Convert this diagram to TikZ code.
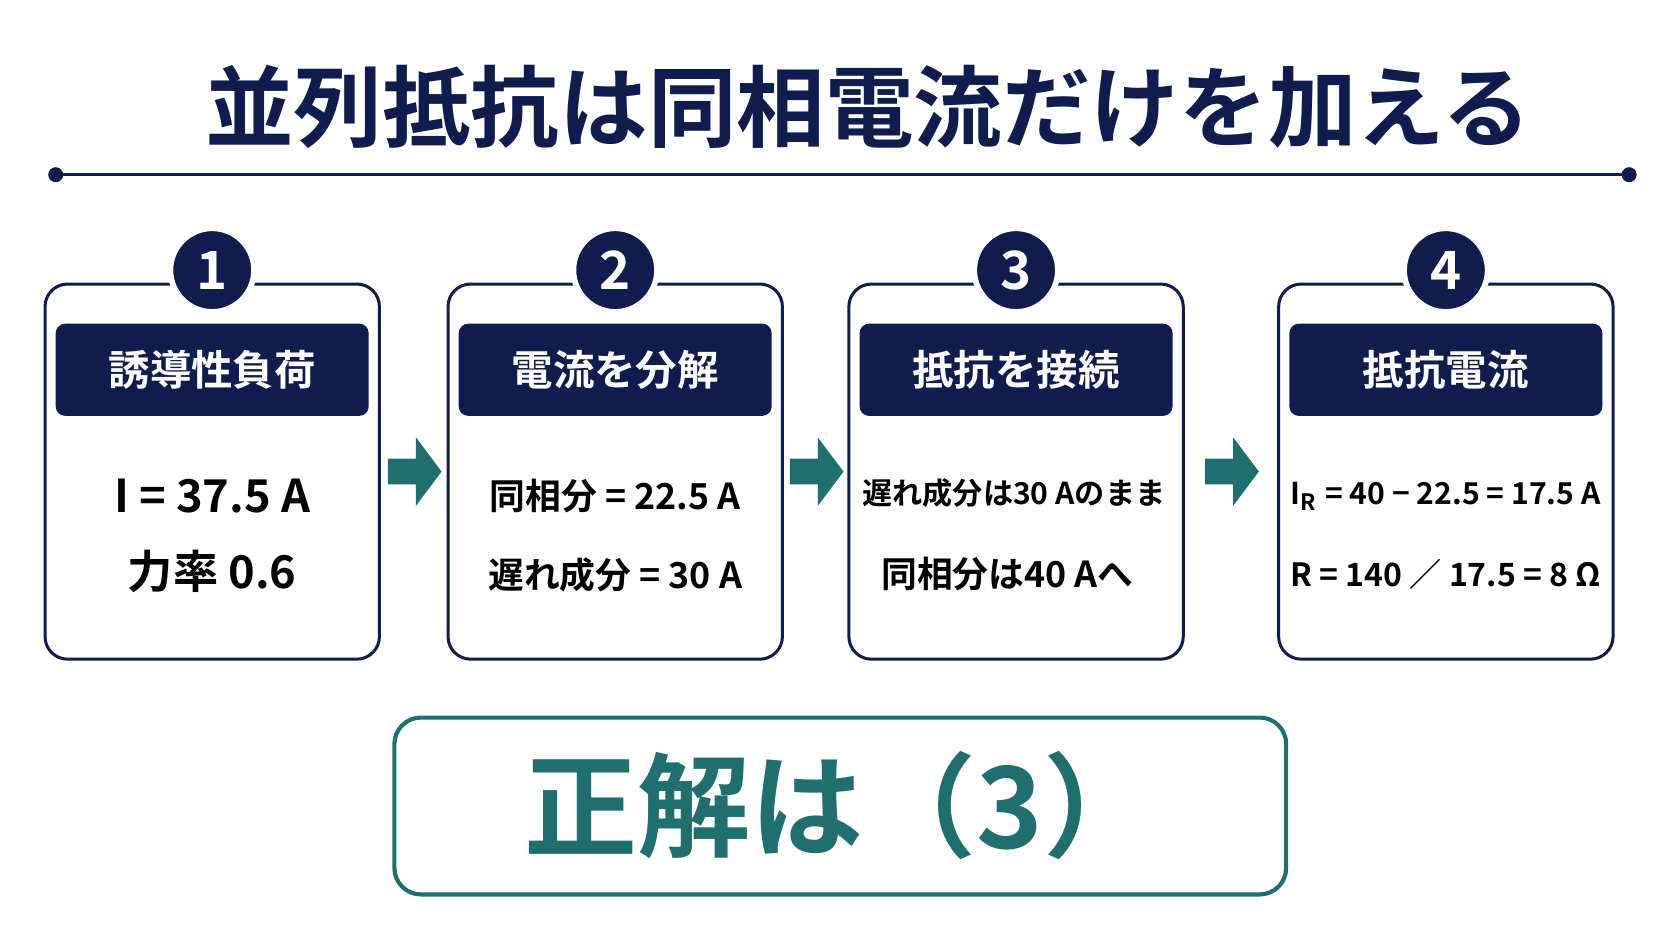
\documentclass[tikz,border=0pt]{standalone}
\usepackage{fontspec}
\setmainfont{Noto Sans CJK JP}[BoldFont={* Bold}]
\usetikzlibrary{positioning,arrows.meta}
\definecolor{navy}{HTML}{0F1C4D}
\definecolor{teal}{HTML}{1F6F6E}
\newlength{\pxu}\setlength{\pxu}{0.01cm}
\tikzset{
  card/.style={draw=navy,line width=0.8pt,rounded corners=6pt,fill=white,minimum width=312\pxu,minimum height=350\pxu},
  bar/.style={fill=navy,rounded corners=2.5pt,minimum width=292\pxu,minimum height=86\pxu,text=white,font=\bfseries\fontsize{11}{13}\selectfont},
  num/.style={circle,fill=navy,draw=white,line width=1.5pt,minimum size=78\pxu,inner sep=0pt,text=white,font=\bfseries\fontsize{14}{16}\selectfont},
  body/.style={text=black,font=\bfseries\fontsize{9.5}{11}\selectfont},
}
\begin{document}
\begin{tikzpicture}[x=0.01cm,y=-0.01cm]
\useasboundingbox[fill=white] (0,0) rectangle (1560,878);
% Titel
\node[text=navy,font=\bfseries\fontsize{23.5}{26}\selectfont] (title) at (810,100) {並列抵抗は同相電流だけを加える};
\coordinate (la) at (52,163); \coordinate (lb) at (1520,163);
\draw[navy,line width=0.9pt] (la) -- (lb);
\fill[navy] (la) circle (7) (lb) circle (7);
% Karten
\foreach \n/\x/\h in {1/198/誘導性負荷,2/574/電流を分解,3/948/抵抗を接続,4/1349/抵抗電流}{
  \node[card] (c\n) at (\x,440) {};
  \node[bar] (b\n) at (\x,345) {\h};
  \node[num] (n\n) at (\x,252) {\n};
}
\node[body,font=\bfseries\fontsize{12}{14}\selectfont] (t1a) at (198,463) {I = 37.5 A};
\node[body,font=\bfseries\fontsize{12}{14}\selectfont] (t1b) at (198,533) {力率 0.6};
\node[body] (t2a) at (574,463) {同相分 = 22.5 A};
\node[body] (t2b) at (574,536) {遅れ成分 = 30 A};
\node[body,font=\bfseries\fontsize{8}{10}\selectfont] (t3a) at (946,460) {遅れ成分は30 Aのまま};
\node[body] (t3b) at (940,536) {同相分は40 Aへ};
\node[body,font=\bfseries\fontsize{8}{10}\selectfont] (t4a) at (1349,463) {I\textsubscript{R} = 40 − 22.5 = 17.5 A};
\node[body,font=\bfseries\fontsize{8.5}{10}\selectfont] (t4b) at (1349,536) {R = 140 ／ 17.5 = 8 Ω};
% Pfeile
\foreach \a/\b in {c1/c2,c2/c3,c3/c4}{
  \path (\a.east) -- (\b.west) coordinate[pos=0.5] (m);
  \fill[teal] ([xshift=-24\pxu,yshift=-12\pxu]m) rectangle ([xshift=2\pxu,yshift=12\pxu]m)
    ([xshift=2\pxu,yshift=-32\pxu]m) -- ([xshift=26\pxu]m) -- ([xshift=2\pxu,yshift=32\pxu]m) -- cycle;
}
% Antwort
\node[draw=teal,line width=1.1pt,rounded corners=7pt,minimum width=832\pxu,minimum height=165\pxu,
  text=teal,font=\bfseries\fontsize{30}{33}\selectfont] (ans) at (784,752) {正解は（3）};
\end{tikzpicture}
\end{document}
